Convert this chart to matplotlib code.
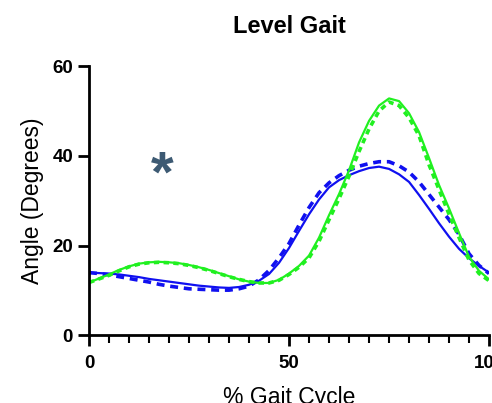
import numpy as np
import matplotlib
matplotlib.use("Agg")
import matplotlib.pyplot as plt
from matplotlib.ticker import MultipleLocator

plt.rcParams['font.family'] = ['Liberation Sans', 'DejaVu Sans']

# % gait cycle, every 2.5 %
cycle = [0, 2.5, 5, 7.5, 10, 12.5, 15, 17.5, 20, 22.5, 25, 27.5, 30, 32.5, 35, 37.5,
         40, 42.5, 45, 47.5, 50, 52.5, 55, 57.5, 60, 62.5, 65, 67.5, 70, 72.5, 75,
         77.5, 80, 82.5, 85, 87.5, 90, 92.5, 95, 97.5, 100]

# knee angle, degrees
blue_solid = [14.0, 13.9, 13.8, 13.6, 13.3, 13.0, 12.6, 12.3, 12.0, 11.7, 11.4, 11.1,
              10.9, 10.7, 10.6, 10.8, 11.3, 12.2, 13.7, 16.2, 19.5, 23.3, 27.0, 30.3,
              33.0, 34.6, 35.7, 36.6, 37.3, 37.6, 37.1, 35.9, 34.2, 31.3, 28.2, 25.0,
              22.0, 19.3, 17.2, 15.5, 14.0]
blue_dash = [14.0, 13.8, 13.5, 13.1, 12.7, 12.3, 11.9, 11.4, 11.0, 10.7, 10.4, 10.3,
             10.2, 10.1, 10.1, 10.4, 11.0, 12.4, 14.5, 17.3, 20.5, 24.6, 28.5, 31.8,
             34.0, 35.6, 36.8, 37.7, 38.3, 38.7, 38.7, 37.8, 36.4, 34.2, 31.4, 28.6,
             25.8, 22.5, 18.2, 15.6, 13.8]
green_solid = [11.8, 12.7, 13.6, 14.6, 15.4, 16.0, 16.3, 16.4, 16.3, 16.1, 15.7, 15.2,
               14.6, 13.9, 13.2, 12.5, 12.0, 11.7, 11.7, 12.4, 13.8, 15.5, 17.8, 21.8,
               26.8, 31.5, 36.8, 43.0, 47.8, 51.2, 52.8, 52.2, 49.5, 45.3, 39.5, 33.5,
               28.3, 22.8, 17.5, 14.4, 12.5]
green_dash = [11.8, 12.6, 13.4, 14.4, 15.3, 15.9, 16.2, 16.3, 16.2, 16.0, 15.6, 15.1,
              14.5, 13.8, 13.1, 12.5, 12.0, 11.7, 11.7, 12.3, 13.6, 15.2, 17.3, 21.0,
              25.8, 30.5, 35.5, 41.0, 46.0, 50.0, 52.0, 51.2, 48.5, 44.5, 38.0, 32.5,
              27.0, 21.8, 16.8, 13.8, 12.2]

blue = '#1010f0'
green = '#20f020'

fig = plt.figure(figsize=(4.92, 4.03), dpi=100)
ax = fig.add_axes([0.181, 0.1675, 0.813, 0.6685])

ax.plot(cycle, blue_solid, color=blue, lw=1.6)
ax.plot(cycle, blue_dash, color=blue, lw=2.6, ls=(0, (2.2, 1.6)))
ax.plot(cycle, green_solid, color=green, lw=1.6)
ax.plot(cycle, green_dash, color=green, lw=2.6, ls=(0, (1.5, 1.2)))

ax.text(18.3, 35.3, '*', color='#3d5a73', fontsize=42, fontweight='bold',
        ha='center', va='center')

ax.set_xlim(0, 100)
ax.set_ylim(0, 60)
ax.xaxis.set_major_locator(MultipleLocator(50))
ax.xaxis.set_minor_locator(MultipleLocator(5))
ax.yaxis.set_major_locator(MultipleLocator(20))

for s in ['top', 'right']:
    ax.spines[s].set_visible(False)
for s in ['left', 'bottom']:
    ax.spines[s].set_linewidth(2)
ax.tick_params(which='major', length=8, width=2, labelsize=13.5)
ax.tick_params(axis='x', which='major', pad=6)
ax.tick_params(which='minor', length=5.5, width=1.5)
for lab in ax.get_xticklabels() + ax.get_yticklabels():
    lab.set_fontweight('bold')

ax.set_xlabel('% Gait Cycle', fontsize=16.5, labelpad=10)
ax.set_ylabel('Angle (Degrees)', fontsize=16.5, labelpad=6)
ax.set_title('Level Gait', fontsize=17, fontweight='bold', pad=24)

fig.savefig('out.png', dpi=100)
